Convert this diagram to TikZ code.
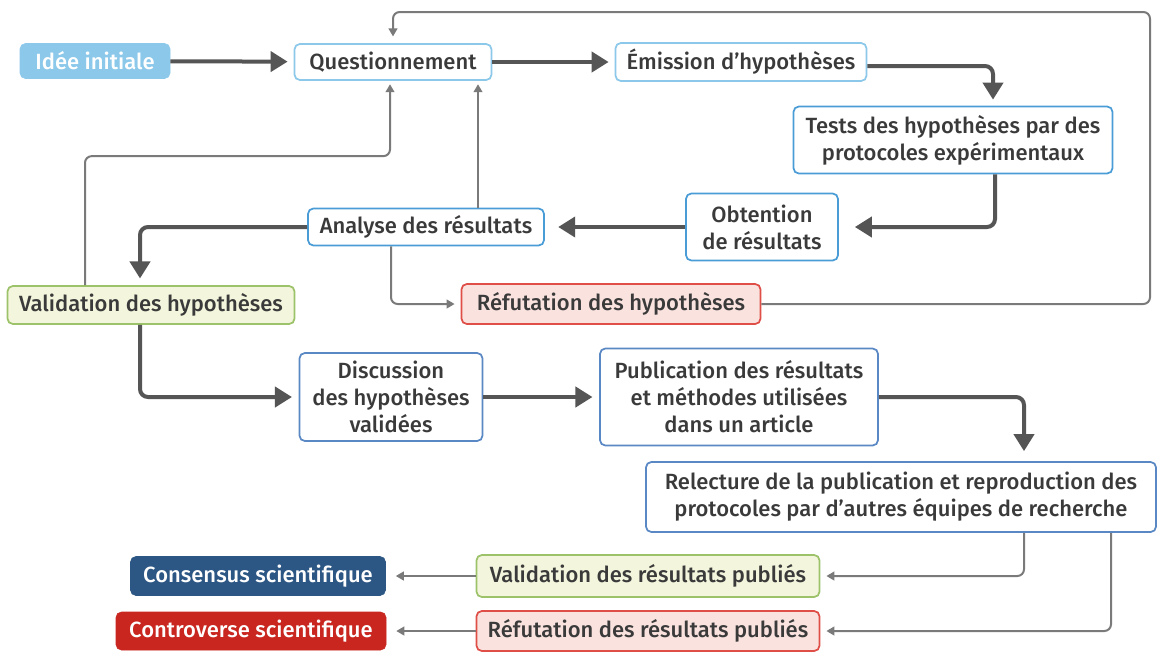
\documentclass[tikz,border=0pt]{standalone}
\usepackage{fontspec}
\setmainfont{Fira Sans}[UprightFont=* Medium]
\usetikzlibrary{arrows.meta,calc}
\definecolor{txt}{HTML}{3A3A3A}
\definecolor{lightblue}{HTML}{8CC8EA}
\definecolor{midblue}{HTML}{4A9CD6}
\definecolor{steelblue}{HTML}{5A88C4}
\definecolor{greenfill}{HTML}{F3F5DC}
\definecolor{greenline}{HTML}{9CC26A}
\definecolor{redfill}{HTML}{FAE3DF}
\definecolor{redline}{HTML}{DF4F48}
\definecolor{darkblue}{HTML}{2C5683}
\definecolor{darkred}{HTML}{C8261F}
\definecolor{thkgray}{HTML}{555555}
\definecolor{thngray}{HTML}{7A7A7A}
\begin{document}
\begin{tikzpicture}[x=0.75pt,y=-0.75pt,
  every node/.style={font=\fontsize{16.5}{20.3}\selectfont, text=txt, align=center, inner sep=0pt},
  box/.style={draw, line width=1.3pt, rounded corners=4pt, fill=white},
  lbox/.style={box, draw=lightblue},
  mbox/.style={box, draw=midblue},
  sbox/.style={box, draw=steelblue},
  gbox/.style={box, draw=greenline, fill=greenfill},
  rbox/.style={box, draw=redline, fill=redfill},
  solid/.style={rounded corners=4pt, draw=#1, fill=#1, text=white},
  thk/.style={draw=thkgray, line width=3pt, rounded corners=6pt, -{Triangle[length=12.75pt,width=15pt]}},
  thn/.style={draw=thngray, line width=1.5pt, rounded corners=5pt, -{Triangle[length=6pt,width=6.5pt]}}
]
\useasboundingbox (0,0) rectangle (1157,651);
\fill[white] (0,0) rectangle (1157,651);

\node[solid=lightblue, minimum width=112.5pt, minimum height=26.25pt] (idee) at (95,61) {Idée initiale};
\node[lbox, minimum width=147.75pt, minimum height=27pt] (quest) at (393,62) {Questionnement};
\node[lbox, minimum width=188.25pt, minimum height=28.5pt] (emis) at (741,62) {Émission d’hypothèses};
\node[mbox, minimum width=239.25pt, minimum height=50.25pt] (tests) at (953,140) {Tests des hypothèses par des\\protocoles expérimentaux};
\node[mbox, minimum width=114pt, minimum height=50.25pt] (obt) at (762,227) {Obtention\\de résultats};
\node[mbox, minimum width=177pt, minimum height=27.75pt] (ana) at (426,227) {Analyse des résultats};
\node[gbox, minimum width=215.25pt, minimum height=28.5pt] (valh) at (151,305) {Validation des hypothèses};
\node[rbox, minimum width=224.25pt, minimum height=30pt] (refh) at (611,304) {Réfutation des hypothèses};
\node[sbox, minimum width=137.25pt, minimum height=66pt] (disc) at (391,397) {Discussion\\des hypothèses\\validées};
\node[sbox, minimum width=208.5pt, minimum height=72.75pt] (pub) at (739,397) {Publication des résultats\\et méthodes utilisées\\dans un article};
\node[sbox, minimum width=382.5pt, minimum height=52.5pt] (rel) at (901,497) {Relecture de la publication et reproduction des\\protocoles par d’autres équipes de recherche};
\node[gbox, minimum width=257.25pt, minimum height=31.5pt] (valp) at (648,576) {Validation des résultats publiés};
\node[rbox, minimum width=257.25pt, minimum height=30pt] (refp) at (648,631) {Réfutation des résultats publiés};
\node[solid=darkblue, minimum width=191.25pt, minimum height=29.25pt] (cons) at (258,576) {Consensus scientifique};
\node[solid=darkred, minimum width=202.5pt, minimum height=28.5pt] (contr) at (251,631) {Controverse scientifique};

\coordinate (loopR) at (1150,12);

% thick connectors
\draw[thk, shorten >=4.5pt] (idee) -- (quest);
\draw[thk, shorten >=4.5pt] (quest) -- (emis);
\draw[thk, shorten >=4.5pt] ($(emis.east)+(0,4)$) -| ($(tests.north)+(40,0)$);
\draw[thk, shorten >=12pt] ($(tests.south)+(42,0)$) |- (obt.east);
\draw[thk, shorten >=10pt] (obt) -- (ana);
\draw[thk, shorten >=5pt] (ana.west) -| ($(valh.north)+(-11,0)$);
\draw[thk, shorten >=5pt] ($(valh.south)+(-11,0)$) |- (disc.west);
\draw[thk, shorten >=5pt] (disc) -- (pub);
\draw[thk, shorten >=7.5pt] (pub.east) -| ($(rel.north)+(123,0)$);

% thin connectors
\draw[thn, shorten >=2.5pt] ($(ana.north)+(52,0)$) -- ($(quest.south)+(85,0)$);
\draw[thn, shorten >=2.5pt] ($(valh.north)+(-66,0)$) -- ++(0,-129) -| ($(quest.south)+(-3,0)$);
\draw[thn, shorten >=4.5pt] ($(ana.south)+(-35,0)$) |- (refh.west);
\draw[thn, shorten >=5pt] (refh.east) -| (loopR) -| (quest.north);
\draw[thn, shorten >=4.5pt] ($(rel.south)+(123,0)$) |- (valp.east);
\draw[thn, shorten >=4.5pt] ($(rel.south)+(210,0)$) |- (refp.east);
\draw[thn, shorten >=7.5pt] (valp) -- (cons);
\draw[thn, shorten >=7.5pt] (refp) -- (contr);
\end{tikzpicture}
\end{document}
